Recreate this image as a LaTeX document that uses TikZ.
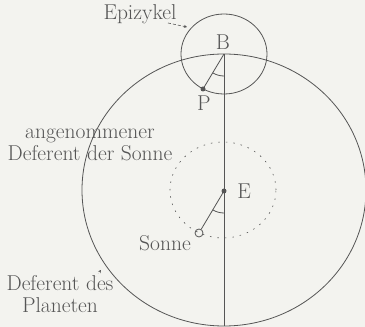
\documentclass[tikz,border=0pt]{standalone}
\usepackage{tikz}
\usetikzlibrary{arrows.meta,positioning,calc}
\definecolor{paper}{RGB}{243,243,239}
\definecolor{ink}{RGB}{85,85,85}
\begin{document}
\begin{tikzpicture}[x=1pt,y=1pt,>=Stealth,font=\fontsize{21.5}{21.5}\selectfont,color=ink]
\tikzstyle{ln}=[draw=ink,line width=0.8pt]
\tikzstyle{lbl}=[text=ink,inner sep=0pt]
\fill[paper] (0,0) rectangle (365,327);
\useasboundingbox (0,0) rectangle (365,327);
\clip (0,0) rectangle (365,327);
\coordinate (B) at (224,273);
\coordinate (E) at (224,136);
\coordinate (bot) at (224,1);
\coordinate (P) at (203,238);
\coordinate (epit) at (187,300);
\coordinate (plt) at (101,57);
% Kreise
\draw[ln] (224,137) ellipse [x radius=142,y radius=136];
\draw[ln] (B) ellipse [x radius=43,y radius=40];
\draw[ink,line width=0.6pt,dash pattern=on 1.5pt off 6pt] (223,137) ellipse [x radius=53,y radius=48];
% Linien
\draw[ln] (B) -- (bot);
\draw[ln] (B) -- (P);
\draw[ln] ($(B)+(239:22)$) arc[start angle=239,end angle=270,radius=22];
\node[circle,fill=ink,inner sep=0pt,minimum size=5pt] (pdot) at (P) {};
\node[circle,fill=ink,inner sep=0pt,minimum size=5pt] (edot) at (E) {};
\node[circle,draw=ink,line width=0.8pt,inner sep=0pt,minimum size=8pt] (sun) at (199,94) {};
\draw[ln] (edot) -- (sun);
\draw[ln] ($(E)+(239:22)$) arc[start angle=239,end angle=270,radius=22];
% Beschriftung
\node[lbl] (b) at (223,285) {B};
\node[lbl] (p) at (204,224) {P};
\node[lbl] (e) at (244,136) {E};
\node[lbl] (sonne) at (165,84) {Sonne};
\node[lbl] (epi) at (140,313) {Epizykel};
\node[lbl,align=center] (dsonne) at (90,182) {angenommener\\Deferent der Sonne};
\node[lbl,align=center] (dplan) at (60,33) {Deferent des\\Planeten};
\draw[ink,line width=0.6pt,dash pattern=on 3pt off 2pt,-{Stealth[length=3pt,width=3pt]}] (168,304) -- (epit);
\draw[paper!80!ink,line width=0.4pt,dash pattern=on 1pt off 3pt,-{Stealth[length=3pt,width=3pt,color=ink]}] (93,47) -- (plt);
\end{tikzpicture}
\end{document}
